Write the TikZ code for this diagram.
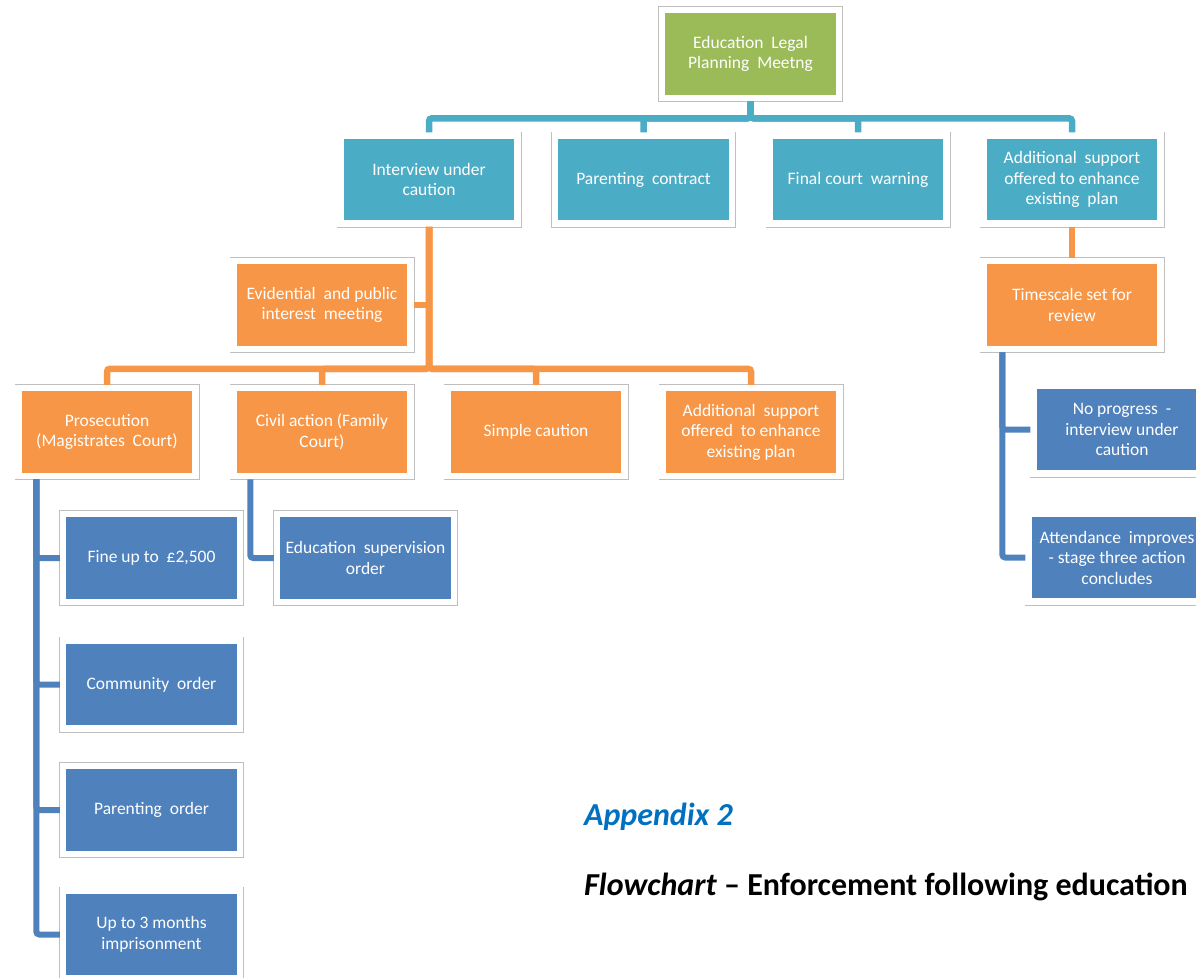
\documentclass[tikz,border=0pt]{standalone}
\usepackage{fontspec}
\setmainfont{Carlito}
\usetikzlibrary{positioning}

\definecolor{boxgreen}{HTML}{9BBB59}
\definecolor{boxteal}{HTML}{4BACC6}
\definecolor{boxorange}{HTML}{F79646}
\definecolor{boxblue}{HTML}{4F81BD}
\definecolor{titleblue}{HTML}{0070C0}

\newcommand{\boxfont}{\fontsize{17.5}{20.5}\selectfont}
\newcommand{\titlefont}{\fontsize{32}{38}\selectfont\bfseries}

\tikzset{
  box/.style={draw=white, line width=6.5pt, preaction={draw=black!25, line width=8pt},
    minimum width=177pt, minimum height=88pt, inner sep=0pt,
    text=white, align=center, font=\boxfont},
  greenbox/.style={box, fill=boxgreen},
  tealbox/.style={box, fill=boxteal},
  orangebox/.style={box, fill=boxorange},
  bluebox/.style={box, fill=boxblue},
  tealline/.style={draw=boxteal, line width=6.5pt, rounded corners=3pt},
  orangeline/.style={draw=boxorange, line width=6.5pt, rounded corners=3pt},
  blueline/.style={draw=boxblue, line width=6pt, rounded corners=3pt}
}

\begin{document}
\begin{tikzpicture}[x=1pt,y=-1pt]

\useasboundingbox (0,0) rectangle (1196,977);
\clip (0,0) rectangle (1196,977);

% top level
\node [greenbox] (meeting) at (750.5,54) {Education\ \ Legal\\Planning\ \ Meetng};

\node [tealbox] (interview) at (429,179.5) {Interview under\\caution};
\node [tealbox] (contract) at (643.5,179.5) {Parenting\ \ contract};
\node [tealbox] (warning) at (858,179.5) {Final court\ \ warning};
\node [tealbox] (support) at (1072,179.5) {Additional\ \ support\\offered to enhance\\existing\ \ plan};

% after interview under caution
\node [orangebox] (evidential) at (322,305) {Evidential\ \ and public\\interest\ \ meeting};
\node [orangebox] (prosecution) at (107,432) {Prosecution\\(Magistrates\ \ Court)};
\node [orangebox] (civil) at (322,432) {Civil action (Family\\Court)};
\node [orangebox] (simple) at (536,432) {Simple caution};
\node [orangebox] (support2) at (751,432) {Additional\ \ support\\offered\ \ to enhance\\existing plan};

\node [bluebox] (fine) at (151.5,558) {Fine up to\ \ £2,500};
\node [bluebox] (community) at (151.5,684.5) {Community\ \ order};
\node [bluebox] (porder) at (151.5,810) {Parenting\ \ order};
\node [bluebox] (prison) at (151.5,934.5) {Up to 3 months\\imprisonment};
\node [bluebox] (supervision) at (365.5,558) {Education\ \ supervision\\order};

% after additional support
\node [orangebox] (timescale) at (1072,305) {Timescale set for\\review};
\node [bluebox] (noprogress) at (1122,429.5) {No progress\ \ -\\interview under\\caution};
\node [bluebox] (attendance) at (1117,557.5) {Attendance\ \ improves\\- stage three action\\concludes};

% connectors
\foreach \c in {interview,contract,warning,support}
  \draw [tealline] (meeting.south) -- ++(0,17) -| (\c.north);
\foreach \c in {prosecution,civil,simple,support2}
  \draw [orangeline] (interview.south) -- ++(0,142) -| (\c.north);
\draw [orangeline] (evidential.east) -- (evidential.east -| interview.south);
\draw [orangeline] (support.south) -- (timescale.north);

\foreach \c in {fine,community,porder,prison}
  \draw [blueline] ([xshift=21pt]prosecution.south west) |- (\c.west);
\draw [blueline] ([xshift=20pt]civil.south west) |- (supervision.west);
\foreach \c in {noprogress,attendance}
  \draw [blueline] ([xshift=22pt]timescale.south west) |- (\c.west);

% caption
\node [anchor=base west, font=\titlefont\itshape, text=titleblue, inner sep=0pt] (appendix) at (584,825) {Appendix 2};
\node [anchor=base west, font=\titlefont, inner sep=0pt] (flowtitle) at (584,895) {\textit{Flowchart} -- Enforcement following education};

\end{tikzpicture}
\end{document}
